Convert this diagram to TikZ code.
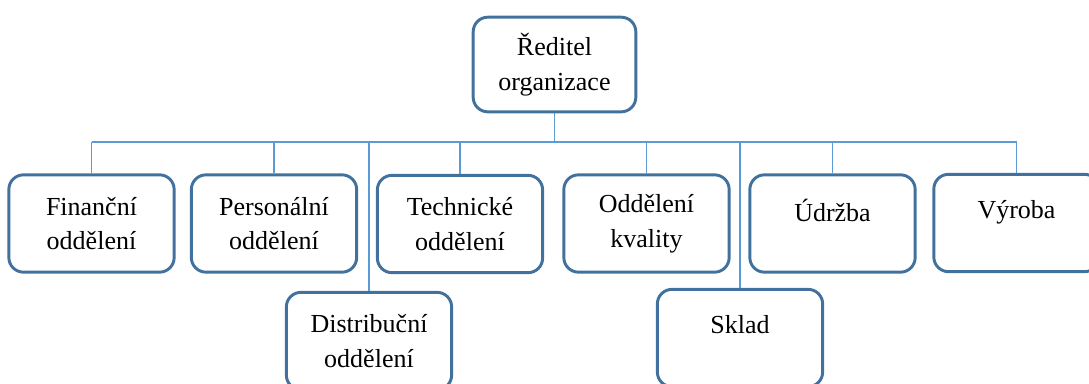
\documentclass[tikz,border=0pt]{standalone}
\usepackage{fontspec}
\setmainfont{Liberation Serif}
\usepackage{xcolor}
\usepackage{tikz}
\usetikzlibrary{positioning,calc}
\definecolor{boxblue}{RGB}{65,113,156}
\definecolor{lineblue}{RGB}{91,155,213}
% single line label, set on the first of two lines
\newcommand{\oneline}[1]{\raisebox{-3pt}[\height][0pt]{#1}\\\mbox{}}

\begin{document}
\begin{tikzpicture}[
  x=0.75pt,y=-0.75pt,
  dept/.style={rectangle,draw=boxblue,fill=white,rounded corners=11pt,line width=2.2pt,
               align=center,minimum width=124pt,minimum height=73pt,
               font=\fontsize{19.5}{26}\selectfont},
  link/.style={draw=lineblue,line width=1pt}]
\clip (0,0) rectangle (1089,383);
\useasboundingbox (0,0) rectangle (1089,383);
\node[dept,minimum width=122pt,minimum height=71pt] (head) at (554.5,64.5) {Ředitel\\organizace};
\node[dept] (fin) at (91.5,223.5) {Finanční\\oddělení};
\node[dept] (pers) at (274,223.5) {Personální\\oddělení};
\node[dept] (tech) at (460,224) {Technické\\oddělení};
\node[dept] (kval) at (646.5,223.5) {Oddělení\\kvality};
\node[dept] (udr) at (832.5,223.5) {\oneline{Údržba}};
\node[dept] (vyr) at (1016.5,223) {\oneline{Výroba}};
\node[dept] (dist) at (369,341) {Distribuční\\oddělení};
\node[dept] (sklad) at (740,338) {\oneline{Sklad}};
\coordinate (bus) at (554.5,142);
\draw[link] (head.south) -- (bus);
\draw[link] (fin.north |- bus) -- (vyr.north |- bus);
\draw[link] (fin.north |- bus) -- (fin.north);
\draw[link] (pers.north |- bus) -- (pers.north);
\draw[link] (dist.north |- bus) -- (dist.north);
\draw[link] (tech.north |- bus) -- (tech.north);
\draw[link] (kval.north |- bus) -- (kval.north);
\draw[link] (sklad.north |- bus) -- (sklad.north);
\draw[link] (udr.north |- bus) -- (udr.north);
\draw[link] (vyr.north |- bus) -- (vyr.north);
\end{tikzpicture}
\end{document}
